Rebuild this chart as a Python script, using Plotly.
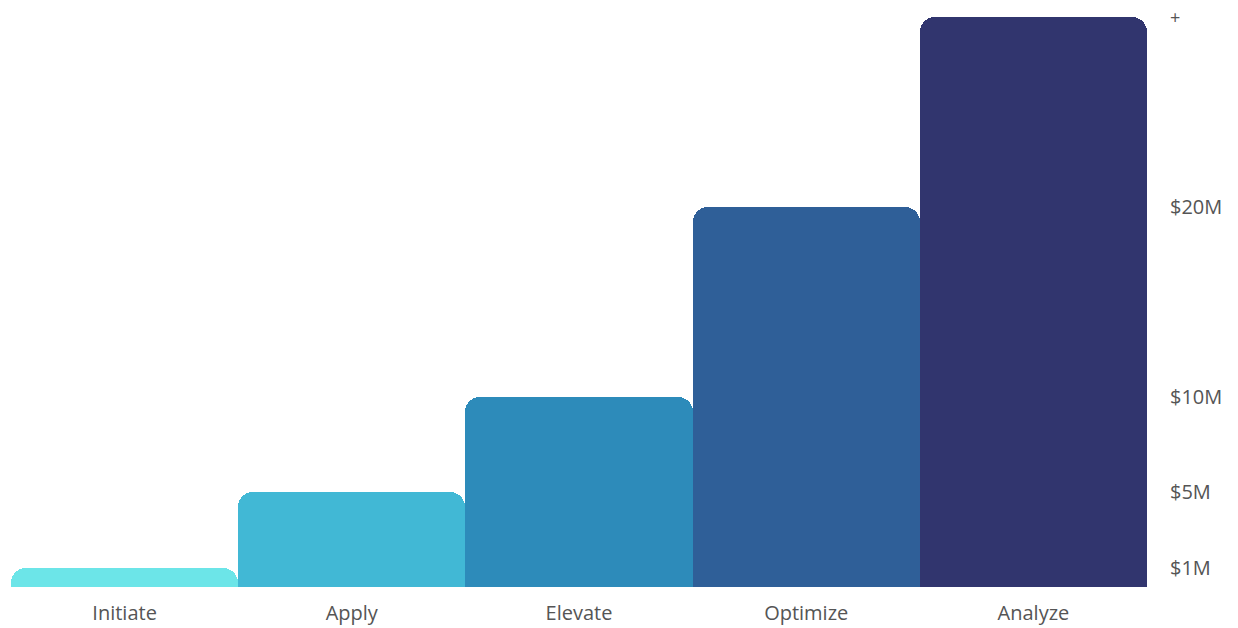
import plotly.graph_objects as go

categories = ["Initiate", "Apply", "Elevate", "Optimize", "Analyze"]
values_musd = [1, 5, 10, 20, 30]
colors = ["#6ce5e8", "#41b8d5", "#2d8bba", "#2f5f98", "#31356e"]
tick_vals = [1, 5, 10, 20, 30]
tick_text = ["$1M", "$5M", "$10M", "$20M", "<span style='font-size:18px'>+</span>"]

fig = go.Figure(
    go.Bar(
        x=categories,
        y=values_musd,
        marker=dict(color=colors, line=dict(width=0)),
        hoverinfo="skip",
    )
)

fig.update_layout(
    width=1238,
    height=628,
    margin=dict(l=11, r=91, t=17, b=41, autoexpand=False),
    paper_bgcolor="white",
    plot_bgcolor="white",
    bargap=0,
    barcornerradius=15,
    showlegend=False,
    font=dict(family="Open Sans, Lato, sans-serif", color="#555555", size=20),
)
fig.update_xaxes(
    automargin=False,
    showgrid=False,
    zeroline=False,
    showline=False,
    ticks="",
    ticklabelstandoff=12,
    tickfont=dict(size=20, color="#555555"),
)
fig.update_yaxes(
    automargin=False,
    side="right",
    range=[0, 30],
    tickvals=tick_vals,
    ticktext=tick_text,
    showgrid=False,
    zeroline=False,
    showline=False,
    ticks="",
    ticklabelstandoff=22,
    tickfont=dict(size=20, color="#555555"),
)

fig.write_html("out.html")
